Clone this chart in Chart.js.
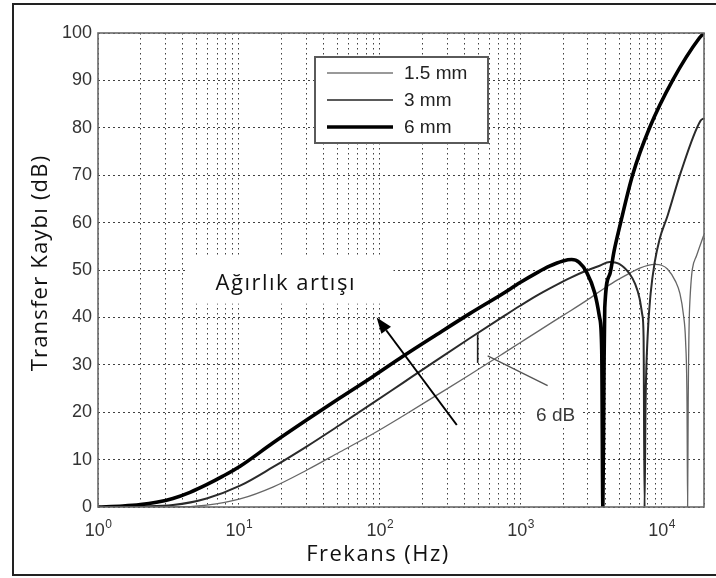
<!DOCTYPE html>
<html>
<head>
<meta charset="utf-8">
<script src="https://cdn.jsdelivr.net/npm/chart.js@4.4.1/dist/chart.umd.min.js"></script>
<style>
  html, body { margin: 0; padding: 0; background: #fff; overflow: hidden; }
  #wrap { position: relative; width: 716px; height: 578px; overflow: hidden; }
  #frame { position: absolute; left: 12px; top: 3px; width: 710px; height: 569px;
           border: 2px solid #222; border-right: none; }
  canvas { position: absolute; left: 0; top: 0; }
</style>
</head>
<body>
<div id="wrap">
  <div id="frame"></div>
  <canvas id="chart" width="716" height="578"></canvas>
</div>
<script>
// Series labels (legend order)
const seriesLabels = ['1.5 mm', '3 mm', '6 mm'];

// 1.5 mm panel: frequency (Hz) and transfer loss (dB)
const freqThin = [1, 3.4, 5.9, 10.2, 17.4, 30.4, 52, 89, 146, 254, 435, 745, 984, 1300, 1700, 2230, 2940,
  4000, 4800, 6000, 7000, 8000, 9000, 10000, 11000, 12560, 13500, 14300, 14800, 15150, 15300, 15450, 15800, 17700, 20000];
const lossThin = [0, 0, 0.4, 1.7, 4.2, 7.8, 11.6, 15.4, 19.2, 23.6, 27.9, 32.3, 34.6, 36.9, 39.1, 41.3, 43.6,
  46.3, 47.8, 49.4, 50.4, 51, 51.2, 51, 50.2, 47.6, 45, 40.5, 35, 22, 0, 22, 42, 53, 57.5];

// 3 mm panel
const freqMid = [1, 2, 3.4, 5.9, 10.2, 17.4, 30.4, 52, 89, 146, 254, 435, 745, 984, 1300, 1700, 2230, 2940,
  3630, 4280, 5000, 5930, 6500, 6980, 7300, 7450, 7570, 7700, 7960, 8360, 8920, 9680, 11040, 13650, 18900, 20000];
const lossMid = [0, 0.1, 0.4, 1.8, 4.5, 8.4, 12.8, 17.3, 21.9, 26.2, 31, 35.6, 40.1, 42.4, 44.6, 46.5, 48.3, 49.9,
  50.9, 51.7, 51.3, 49.2, 47, 44, 40.5, 36, 0, 22, 36, 45, 51.5, 56.5, 61.5, 70.5, 81.5, 82];

// 6 mm panel
const freqThick = [1, 1.5, 2, 2.6, 3.4, 4.5, 5.9, 7.7, 10.2, 17.4, 30.4, 52, 89, 146, 254, 435, 745, 984,
  1300, 1600, 2000, 2300, 2600, 2940, 3350, 3630, 3760, 3830, 3900, 3950, 4280, 4600, 5120, 6220, 8220, 11970, 18600, 20000];
const lossThick = [0, 0.2, 0.5, 1.0, 1.8, 3.1, 4.7, 6.5, 8.6, 13.5, 18.4, 23, 27.5, 31.8, 36.4, 40.8, 45.0, 47.3,
  49.4, 50.8, 51.9, 52.2, 51.6, 49.5, 45.2, 40, 33, 0, 28, 42, 49, 54, 60, 70, 80, 90, 99, 100];

// Axis ticks
const xTickExponents = [0, 1, 2, 3, 4];
const xMin = 1, xMax = 20000;
const yMin = 0, yMax = 100, yStep = 10;

// Grid at every 1..9 x 10^n, like a MATLAB log grid
const xGridValues = [];
xTickExponents.forEach(function(e) {
  for (let m = 1; m <= 9; m++) {
    const v = m * Math.pow(10, e);
    if (v <= xMax) xGridValues.push(v);
  }
});

function toPoints(f, v) {
  return f.map(function(x, i) { return { x: x, y: v[i] }; });
}

// Annotation anchors, in data coordinates (Hz, dB)
const arrowTail = [352, 17.3], arrowTip = [95, 40];
const bracketFreq = 495, bracketLow = 30.4, bracketHigh = 36.4;
const leaderStart = [583, 31.9], leaderEnd = [1553, 25.6];
const massLabel = 'Ağırlık artışı', massLabelAt = [21.5, 45.7];
const massBox = [4.2, 125, 52.6, 42.9];
const dbLabel = '6 dB', dbLabelAt = [1770, 18.2];
const dbBox = [1064, 2680, 22.6, 17.3];

const titleFont = '"Open Sans", "Noto Sans", sans-serif';
const numFont = '"Liberation Sans", Arial, sans-serif';

function drawArrow(ctx, x1, y1, x2, y2) {
    const ang = Math.atan2(y2 - y1, x2 - x1);
    const headLen = 16, headW = 6;
    const bx = x2 - headLen * Math.cos(ang), by = y2 - headLen * Math.sin(ang);
    ctx.beginPath();
    ctx.moveTo(x1, y1);
    ctx.lineTo(bx, by);
    ctx.stroke();
    ctx.beginPath();
    ctx.moveTo(x2, y2);
    ctx.lineTo(bx + headW * Math.sin(ang), by - headW * Math.cos(ang));
    ctx.lineTo(bx - headW * Math.sin(ang), by + headW * Math.cos(ang));
    ctx.closePath();
    ctx.fill();
}

const figureExtras = {
    id: 'figureExtras',
    beforeDatasetsDraw: function(chart) {
        const ctx = chart.ctx, xs = chart.scales.x, ys = chart.scales.y;
        ctx.save();
        ctx.fillStyle = '#fff';
        [massBox, dbBox].forEach(function(b) {
            const x1 = xs.getPixelForValue(b[0]), x2 = xs.getPixelForValue(b[1]);
            const y1 = ys.getPixelForValue(b[2]), y2 = ys.getPixelForValue(b[3]);
            ctx.fillRect(x1, y1, x2 - x1, y2 - y1);
        });
        ctx.restore();
    },
    afterDraw: function(chart) {
        const ctx = chart.ctx, xs = chart.scales.x, ys = chart.scales.y;
        const a = chart.chartArea;
        ctx.save();

        // axes box
        ctx.strokeStyle = '#6a6a6a';
        ctx.lineWidth = 1.6;
        ctx.strokeRect(a.left, a.top, a.right - a.left, a.bottom - a.top);

        // weight-increase arrow
        ctx.strokeStyle = '#000';
        ctx.fillStyle = '#000';
        ctx.lineWidth = 2;
        drawArrow(ctx, xs.getPixelForValue(arrowTail[0]), ys.getPixelForValue(arrowTail[1]),
            xs.getPixelForValue(arrowTip[0]), ys.getPixelForValue(arrowTip[1]));

        // 6 dB bracket and leader
        const bx = xs.getPixelForValue(bracketFreq);
        ctx.lineWidth = 1.6;
        ctx.strokeStyle = '#222';
        ctx.beginPath();
        ctx.moveTo(bx, ys.getPixelForValue(bracketHigh));
        ctx.lineTo(bx, ys.getPixelForValue(bracketLow));
        ctx.stroke();
        ctx.strokeStyle = '#555';
        ctx.lineWidth = 1.3;
        ctx.beginPath();
        ctx.moveTo(xs.getPixelForValue(leaderStart[0]), ys.getPixelForValue(leaderStart[1]));
        ctx.lineTo(xs.getPixelForValue(leaderEnd[0]), ys.getPixelForValue(leaderEnd[1]));
        ctx.stroke();

        // annotation texts
        ctx.textAlign = 'center';
        ctx.textBaseline = 'alphabetic';
        ctx.fillStyle = '#111';
        ctx.font = '22px ' + titleFont;
        ctx.letterSpacing = '1.5px';
        ctx.fillText(massLabel, xs.getPixelForValue(massLabelAt[0]), ys.getPixelForValue(massLabelAt[1]));
        ctx.letterSpacing = '0px';
        ctx.fillStyle = '#3a3a3a';
        ctx.font = '19px ' + numFont;
        ctx.fillText(dbLabel, xs.getPixelForValue(dbLabelAt[0]), ys.getPixelForValue(dbLabelAt[1]));

        // x tick labels 10^n
        ctx.fillStyle = '#333';
        ctx.textAlign = 'left';
        xTickExponents.forEach(function(e) {
            const px = xs.getPixelForValue(Math.pow(10, e));
            ctx.font = '18px ' + numFont;
            const wBase = ctx.measureText('10').width;
            ctx.font = '12px ' + numFont;
            const wExp = ctx.measureText(String(e)).width;
            const start = px - (wBase + wExp) / 2;
            ctx.font = '18px ' + numFont;
            ctx.fillText('10', start, a.bottom + 29);
            ctx.font = '12px ' + numFont;
            ctx.fillText(String(e), start + wBase + 0.5, a.bottom + 21);
        });

        // axis titles
        ctx.fillStyle = '#111';
        ctx.font = '22px ' + titleFont;
        ctx.textAlign = 'center';
        ctx.letterSpacing = '1.5px';
        ctx.fillText('Frekans (Hz)', 378, a.bottom + 54);
        ctx.save();
        ctx.translate(47, (a.top + a.bottom) / 2 - 7);
        ctx.rotate(-Math.PI / 2);
        ctx.letterSpacing = '1.2px';
        ctx.fillText('Transfer Kaybı (dB)', 0, 0);
        ctx.restore();
        ctx.letterSpacing = '0px';

        // legend box
        const lx = 315, ly = 57, lw = 173, lh = 86;
        ctx.fillStyle = '#fff';
        ctx.fillRect(lx, ly, lw, lh);
        ctx.strokeStyle = '#5a5a5a';
        ctx.lineWidth = 2;
        ctx.strokeRect(lx, ly, lw, lh);
        ctx.textAlign = 'left';
        ctx.textBaseline = 'middle';
        ctx.font = '19px ' + numFont;
        chart.data.datasets.forEach(function(ds, i) {
            const yy = ly + 16 + i * 27;
            ctx.strokeStyle = ds.legendColor;
            ctx.lineWidth = ds.borderWidth;
            ctx.beginPath();
            ctx.moveTo(lx + 12, yy);
            ctx.lineTo(lx + 78, yy);
            ctx.stroke();
            ctx.fillStyle = '#222';
            ctx.fillText(ds.label, lx + 89, yy + 1);
        });
        ctx.restore();
    }
};

const ctx = document.getElementById('chart').getContext('2d');
new Chart(ctx, {
    type: 'scatter',
    data: {
        datasets: [
            { label: seriesLabels[0], data: toPoints(freqThin, lossThin), borderColor: '#666', legendColor: '#777',
              borderWidth: 1.3, order: 2 },
            { label: seriesLabels[1], data: toPoints(freqMid, lossMid), borderColor: '#2a2a2a', legendColor: '#5a5a5a',
              borderWidth: 2, order: 1 },
            { label: seriesLabels[2], data: toPoints(freqThick, lossThick), borderColor: '#000', legendColor: '#000',
              borderWidth: 3.6, order: 0 }
        ].map(function(ds) {
            return Object.assign({ showLine: true, pointRadius: 0, cubicInterpolationMode: 'monotone', fill: false }, ds);
        })
    },
    options: {
        responsive: false,
        animation: false,
        devicePixelRatio: 1,
        layout: { padding: { top: 33, right: 12, bottom: 71, left: 0 } },
        plugins: { legend: { display: false }, tooltip: { enabled: false } },
        scales: {
            x: {
                type: 'logarithmic',
                min: xMin,
                max: xMax,
                afterBuildTicks: function(scale) {
                    scale.ticks = xGridValues.map(function(v) { return { value: v }; });
                },
                afterFit: function(scale) { scale.height = 0; },
                ticks: { display: false, autoSkip: false },
                grid: { color: 'rgba(0,0,0,0.75)', lineWidth: 1, drawTicks: false },
                border: { display: false, dash: [1.5, 3.5] }
            },
            y: {
                min: yMin,
                max: yMax,
                afterFit: function(scale) { scale.width = 98; },
                ticks: {
                    stepSize: yStep,
                    padding: 6,
                    color: '#333',
                    font: { family: numFont, size: 18 }
                },
                grid: { color: 'rgba(0,0,0,0.75)', lineWidth: 1, drawTicks: false },
                border: { display: false, dash: [2, 3] }
            }
        }
    },
    plugins: [figureExtras]
});
</script>
</body>
</html>
